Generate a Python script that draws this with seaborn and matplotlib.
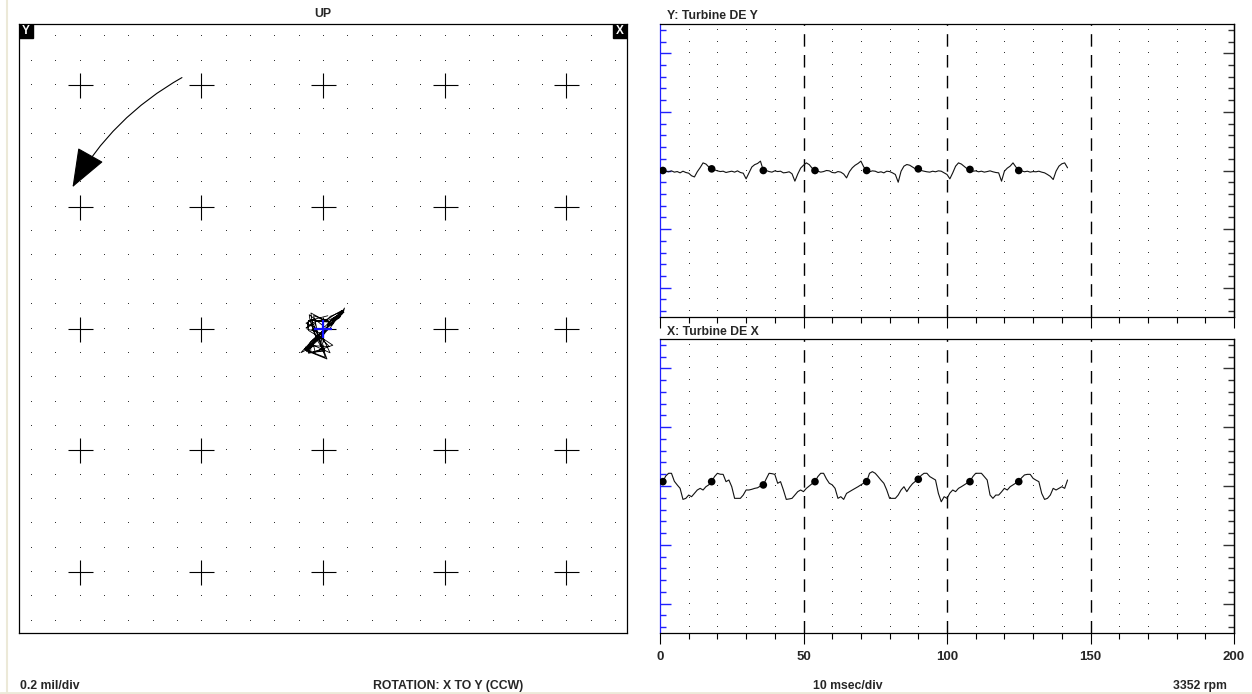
import numpy as np
import pandas as pd
import matplotlib
matplotlib.use("Agg")
import matplotlib.pyplot as plt
import seaborn as sns
from matplotlib.lines import Line2D
from matplotlib.patches import Rectangle

sns.set_style("white")
plt.rcParams.update({
    "font.family": ["Liberation Sans", "DejaVu Sans"],
    "font.size": 8,
    "font.weight": "bold",
    "axes.linewidth": 0.9,
})

# ---- data (values in divisions) ----
time_ms = np.arange(0, 143)  # 1 ms sampling
probe_y = [
    0.00, 0.00, -0.06, -0.11, -0.03, -0.14, -0.09, -0.20, -0.06, -0.17,
    -0.23, -0.45, -0.55, -0.10, 0.25, 0.65, 0.55, 0.30, 0.14, 0.05,
    -0.03, -0.09, -0.06, -0.17, -0.11, -0.06, -0.14, -0.03, -0.17, -0.23,
    -0.71, -0.20, 0.30, 0.50, 0.60, 0.80, 0.00, 0.00, -0.09, -0.14,
    -0.03, -0.09, -0.06, -0.20, -0.17, -0.11, -0.28, -0.91, -0.30, 0.20,
    0.45, 0.65, 0.50, 0.20, 0.00, -0.06, -0.14, -0.09, 0.00, -0.03,
    -0.17, -0.20, -0.09, -0.14, -0.30, -0.63, -0.10, 0.23, 0.45, 0.60,
    0.80, 0.30, 0.00, -0.11, -0.03, -0.06, -0.17, -0.11, -0.20, -0.06,
    -0.09, -0.20, -0.34, -1.00, -0.06, 0.37, 0.51, 0.45, 0.30, 0.14,
    0.14, 0.00, -0.06, -0.11, -0.14, -0.06, -0.11, -0.03, -0.06, -0.20,
    -0.34, -0.71, -0.20, 0.37, 0.65, 0.55, 0.35, 0.15, 0.09, -0.06,
    -0.03, -0.11, -0.06, -0.14, -0.09, -0.03, -0.11, -0.17, -0.20, -0.91,
    -0.06, 0.20, 0.37, 0.65, 0.30, 0.00, -0.03, -0.11, -0.06, -0.14,
    -0.09, -0.11, -0.06, -0.14, -0.20, -0.34, -0.50, -0.77, -0.06, 0.37,
    0.57, 0.65, 0.23,
]
probe_x = [
    0.30, 0.37, 0.85, 1.08, 1.08, 0.40, 0.09, -0.20, -1.14, -1.05,
    -0.77, -0.91, -0.63, -0.34, -0.20, -0.34, -0.06, 0.10, 0.37, 0.80,
    1.08, 1.00, 0.99, 0.37, 0.51, -0.06, -1.05, -1.05, -1.05, -0.77,
    -0.34, -0.34, -0.28, -0.20, -0.15, 0.00, 0.09, 0.60, 1.08, 1.05,
    0.99, 0.23, 0.37, -0.34, -1.14, -1.10, -1.05, -0.77, -0.48, -0.34,
    -0.48, -0.20, 0.00, 0.20, 0.37, 0.80, 1.08, 1.08, 0.60, 0.23,
    0.10, -0.20, -1.05, -0.91, -1.14, -0.63, -0.48, -0.34, -0.20, -0.06,
    0.10, 0.25, 0.37, 1.08, 1.22, 1.08, 0.80, 0.50, 0.23, -0.34,
    -1.05, -1.05, -1.05, -0.77, -0.34, -0.06, -0.48, -0.10, 0.20, 0.40,
    0.57, 0.90, 1.08, 1.08, 0.80, 0.65, 0.51, -0.63, -1.34, -0.91,
    -1.05, -0.60, -0.34, -0.48, -0.20, -0.06, 0.10, 0.25, 0.37, 0.80,
    1.08, 1.08, 1.08, 0.80, 0.51, -0.77, -1.05, -0.77, -0.77, -0.50,
    -0.20, -0.34, -0.06, 0.10, 0.25, 0.37, 0.70, 0.94, 0.99, 0.99,
    0.65, 0.50, 0.37, -0.63, -1.14, -1.05, -0.77, -0.20, -0.34, -0.20,
    -0.06, -0.20, 0.51,
]
keyphasor_idx = [1, 18, 36, 54, 72, 90, 108, 125]
time_ticks = [0, 50, 100, 150, 200]
orbit_scale_text = "0.2 mil/div"
rotation_text = "ROTATION: X TO Y (CCW)"
time_scale_text = "10 msec/div"
speed_text = "3352 rpm"

wave = pd.DataFrame({"time_ms": time_ms, "y_probe": probe_y, "x_probe": probe_x})
# probes mounted 45 deg either side of vertical: X up-right, Y up-left
wave["orbit_h"] = (wave["x_probe"] - wave["y_probe"]) * np.sqrt(0.5)
wave["orbit_v"] = (wave["x_probe"] + wave["y_probe"]) * np.sqrt(0.5)
kp = wave.iloc[keyphasor_idx]

W, H = 1252, 694
fig = plt.figure(figsize=(W / 100, H / 100), dpi=100)


def px_rect(x0, y0, x1, y1):
    return [x0 / W, 1 - y1 / H, (x1 - x0) / W, (y1 - y0) / H]


# ---------------- orbit ----------------
ax_o = fig.add_axes(px_rect(19, 24, 627, 633))
ax_o.set_xlim(-12.5, 12.5)
ax_o.set_ylim(-12.5, 12.5)
gx, gy = np.meshgrid(np.arange(-12, 13), np.arange(-12, 13))
keep = ~((gx % 5 == 0) & (gy % 5 == 0))
ax_o.plot(gx[keep], gy[keep], ",", color="#333333")
cx, cy = np.meshgrid(np.arange(-10, 11, 5), np.arange(-10, 11, 5))
ax_o.plot(cx.ravel(), cy.ravel(), "+", color="black", ms=18, mew=0.8, ls="none")

sns.lineplot(data=wave, x="orbit_h", y="orbit_v", sort=False, estimator=None,
             color="black", lw=0.6, ax=ax_o)
ax_o.plot([wave["orbit_h"].mean()], [wave["orbit_v"].mean()], "+", color="#1010ff",
          ms=13, mew=1.6, zorder=5)

ax_o.annotate("", xy=(-10.3, 5.8), xytext=(-5.8, 10.3),
              arrowprops=dict(arrowstyle="-|>,head_length=2.5,head_width=0.95",
                              connectionstyle="arc3,rad=0.14", color="black",
                              lw=0.8, shrinkA=0, shrinkB=0, mutation_scale=10))

for x0, lab in [(0, "Y"), (1 - 14 / 608, "X")]:
    ax_o.add_patch(Rectangle((x0, 1 - 14 / 609), 14 / 608, 14 / 609,
                             transform=ax_o.transAxes, color="black", zorder=5))
    ax_o.text(x0 + 7 / 608, 1 - 7 / 609, lab, transform=ax_o.transAxes, color="white",
              ha="center", va="center", fontsize=8.5, zorder=6)
ax_o.set_xticks([])
ax_o.set_yticks([])
ax_o.set_xlabel("")
ax_o.set_ylabel("")
for s in ax_o.spines.values():
    s.set_color("black")
    s.set_visible(True)

# ---------------- timebase panels ----------------
ax_y = fig.add_axes(px_rect(660, 24, 1234, 317))
ax_x = fig.add_axes(px_rect(660, 339, 1234, 633))

for ax, col in [(ax_y, "y_probe"), (ax_x, "x_probe")]:
    ax.set_xlim(0, 200)
    ax.set_ylim(-12.5, 12.5)
    dx, dy = np.meshgrid([t for t in range(10, 200, 10) if t % 50], np.arange(-12, 13))
    ax.plot(dx, dy, ",", color="#333333")
    for t in time_ticks[1:-1]:
        ax.axvline(t, color="black", lw=1.0, ls=(0, (9, 6)))
    sns.lineplot(data=wave, x="time_ms", y=col, sort=False, estimator=None,
                 color="#111111", lw=0.8, ax=ax)
    sns.scatterplot(data=kp, x="time_ms", y=col, color="black", s=30,
                    edgecolor="none", ax=ax, zorder=4)
    ax.set_xlabel("")
    ax.set_ylabel("")
    for s in ax.spines.values():
        s.set_visible(True)
        s.set_color("black")
    ax.spines["left"].set_color("#2020ff")

    ax.set_xticks(time_ticks)
    ax.set_xticks(range(0, 201, 10), minor=True)
    ax.tick_params(axis="x", which="major", bottom=True, direction="out", length=8,
                   width=0.8, color="black", labelsize=9.5, pad=5)
    ax.tick_params(axis="x", which="minor", bottom=True, direction="out", length=4,
                   width=0.8, color="black")
    ax.set_yticks([-10, -5, 0, 5, 10])
    ax.set_yticks([v for v in range(-12, 13) if v % 5], minor=True)
    ax.tick_params(axis="y", which="major", left=True, direction="in", length=8,
                   width=1, color="#2020ff", labelleft=False)
    ax.tick_params(axis="y", which="minor", left=True, direction="in", length=4,
                   width=1, color="#2020ff")
    sec = ax.secondary_yaxis("right")
    sec.set_yticks([-10, -5, 0, 5, 10])
    sec.set_yticks([v for v in range(-12, 13) if v % 5], minor=True)
    sec.tick_params(axis="y", which="major", right=True, direction="in", length=8,
                    width=1, color="#333333", labelright=False)
    sec.tick_params(axis="y", which="minor", right=True, direction="in", length=4,
                    width=1, color="#333333")
    sec.spines["right"].set_color("black")

ax_y.tick_params(axis="x", which="both", labelbottom=False)

# ---------------- texts ----------------
def ftext(x, y, s, **kw):
    fig.text(x / W, 1 - y / H, s, va="center", fontsize=8.8, **kw)

ftext(323, 14, "UP", ha="center")
ftext(667, 16, "Y: Turbine DE Y", ha="left")
ftext(667, 332, "X: Turbine DE X", ha="left")
ftext(20, 686, orbit_scale_text, ha="left")
ftext(448, 686, rotation_text, ha="center")
ftext(848, 686, time_scale_text, ha="center")
ftext(1227, 686, speed_text, ha="right")

# window frame remnants
fig.add_artist(Line2D([7 / W, 7 / W], [0, 1], color="#ece9d8", lw=1.5))
fig.add_artist(Line2D([0, 1], [1.5 / H, 1.5 / H], color="#ece9d8", lw=2))

fig.savefig("out.png", dpi=100)
